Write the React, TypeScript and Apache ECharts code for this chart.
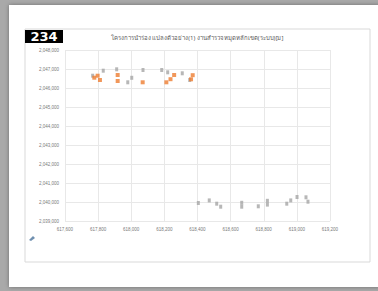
import React, { useEffect, useRef } from "react";
import * as echarts from "echarts";

const xTicks = [617600, 617800, 618000, 618200, 618400, 618600, 618800, 619000, 619200];
const yTicks = [2039000, 2040000, 2041000, 2042000, 2043000, 2044000, 2045000, 2046000, 2047000, 2048000];

const orangeX = [617777, 617797, 617811, 617918, 617918, 618069, 618212, 618237, 618259, 618361, 618371];
const orangeY = [2046542, 2046647, 2046421, 2046684, 2046368, 2046300, 2046300, 2046463, 2046684, 2046458, 2046674];

const grayX = [
  617767, 617831, 617912, 617979, 618003, 618071, 618184, 618220, 618308, 618353,
  618405, 618471, 618516, 618540, 618667, 618667, 618767, 618822, 618822, 618939, 618963, 619001, 619055, 619067,
];
const grayY = [
  2046647, 2046911, 2046984, 2046300, 2046537, 2046947, 2046947, 2046826, 2046774, 2046421,
  2039948, 2040084, 2039911, 2039753, 2039958, 2039753, 2039774, 2040063, 2039863, 2039911, 2040084, 2040263, 2040247, 2040016,
];

const badge = "234";
const title = "โครงการนำร่อง แปลงตัวอย่าง(1) งานสำรวจหมุดหลักเขต(ระบบ)[ม]";

export default function App() {
  const ref = useRef<HTMLDivElement>(null);
  useEffect(() => {
    if (!ref.current) return;
    const chart = echarts.init(ref.current, null, { renderer: "svg" });
    const fmt = (v: number) => v.toLocaleString("en-US");
    chart.setOption({
      animation: false,
      backgroundColor: "#a9a9a9",
      graphic: [
        { type: "rect", shape: { x: 9, y: 5, width: 372, height: 282 }, style: { fill: "#ffffff", shadowBlur: 4, shadowColor: "rgba(0,0,0,0.35)" }, z: -10 },
        { type: "rect", shape: { x: 25, y: 29, width: 345, height: 233 }, style: { fill: "#ffffff", stroke: "#d9d9d9", lineWidth: 1 }, z: -9 },
        { type: "rect", shape: { x: 25, y: 30, width: 38, height: 13 }, style: { fill: "#000000" }, z: 5 },
        { type: "text", x: 44, y: 36.5, style: { text: badge, fill: "#ffffff", font: "bold 13px 'DejaVu Sans'", align: "center", verticalAlign: "middle" }, z: 6 },
        { type: "text", x: 197, y: 38, style: { text: title, fill: "#595959", font: "6px 'Noto Sans'", align: "center", verticalAlign: "middle" }, z: 6 },
        { type: "polygon", shape: { points: [[29, 240], [33, 236], [35, 238], [31, 241]] }, style: { fill: "#7090b0" }, z: 6 },
      ],
      grid: { left: 65, right: 48, top: 50, bottom: 70, containLabel: false },
      xAxis: {
        type: "value",
        min: xTicks[0],
        max: xTicks[xTicks.length - 1],
        interval: 200,
        axisLine: { show: false },
        axisTick: { show: false },
        splitLine: { show: true, lineStyle: { color: "#e8e8e8", width: 1 } },
        axisLabel: { formatter: fmt, fontSize: 4.5, color: "#7a7a7a", margin: 6, fontFamily: "'Liberation Sans'" },
      },
      yAxis: {
        type: "value",
        min: yTicks[0],
        max: yTicks[yTicks.length - 1],
        interval: 1000,
        axisLine: { show: false },
        axisTick: { show: false },
        splitLine: { show: true, lineStyle: { color: "#e8e8e8", width: 1 } },
        axisLabel: { formatter: fmt, fontSize: 4.5, color: "#7a7a7a", margin: 6, fontFamily: "'Liberation Sans'" },
      },
      series: [
        {
          type: "scatter",
          name: "B",
          data: grayX.map((x, i) => [x, grayY[i]]),
          symbol: "rect",
          symbolSize: [3, 4],
          itemStyle: { color: "#a5a5a5" },
        },
        {
          type: "scatter",
          name: "A",
          data: orangeX.map((x, i) => [x, orangeY[i]]),
          symbol: "rect",
          symbolSize: 4,
          itemStyle: { color: "#ed7d31" },
        },
      ],
    });
    return () => chart.dispose();
  }, []);
  return (
    <div style={{ position: "fixed", left: 0, top: 0, width: 378, height: 291 }}>
      <div ref={ref} style={{ width: 378, height: 291 }} />
    </div>
  );
}
